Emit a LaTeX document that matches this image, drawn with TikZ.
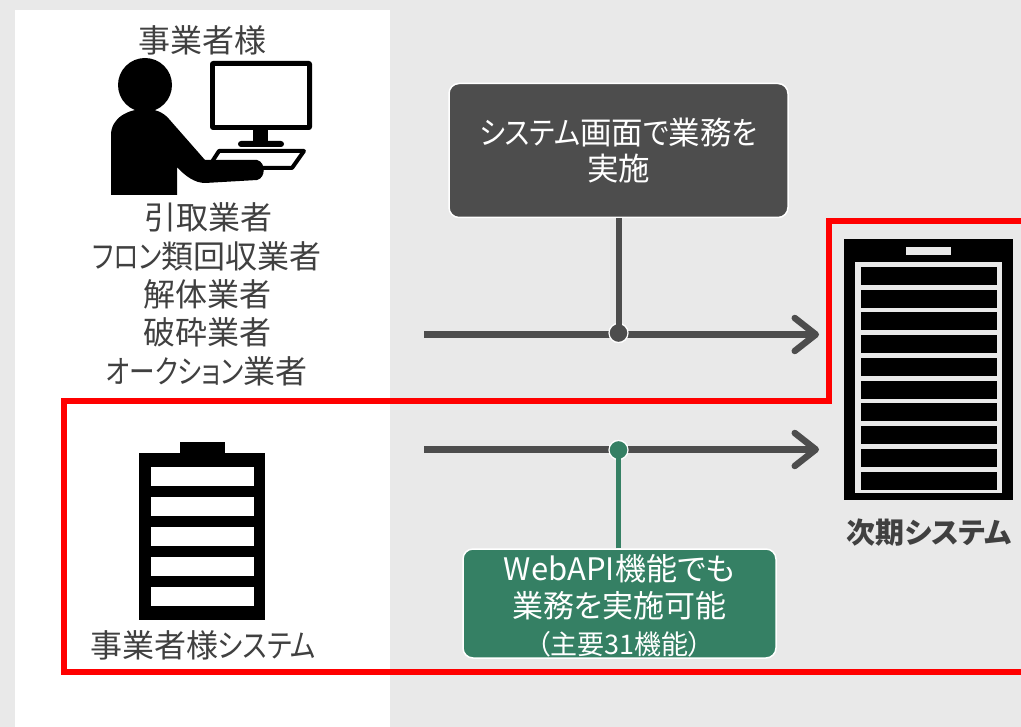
\documentclass[tikz,border=0pt]{standalone}
\usepackage{fontspec}
\setmainfont{Noto Sans CJK JP}[RawFeature=+palt]
\usetikzlibrary{arrows.meta}
\definecolor{panelgray}{HTML}{E9E9E9}
\definecolor{darkgray}{HTML}{4D4D4D}
\definecolor{textgray}{HTML}{404040}
\definecolor{boxgreen}{HTML}{358064}
\newcommand{\kana}[2][0.8]{\scalebox{#1}[1]{#2}}
\tikzset{
  label/.style={text=textgray, font=\fontsize{32}{34}\selectfont, inner sep=0pt},
  taskbox/.style={draw=white, line width=1.5pt, rounded corners=10pt, text=white, align=center, inner sep=0pt},
  flow/.style={darkgray, line width=6.5pt, -{Straight Barb[length=21pt,width=33pt,round]}},
  dot/.style={circle, draw=white, line width=1.2pt, minimum size=19pt, inner sep=0pt},
  icon/.style={fill=black, draw=none}
}
\begin{document}
\begin{tikzpicture}[x=1pt, y=-1pt]
\useasboundingbox (0,0) rectangle (1021,727);
% Background
\fill[panelgray] (0,0) rectangle (1021,727);
\fill[white] (15,10) rectangle (390,727);

% Person at the screen
\draw[line width=4pt, line join=round] (219,151) -- (304,151) -- (292,168) -- (250,168);
\draw[line width=4pt, line cap=round] (219,151) -- (208,168);
\fill[icon] (145,85) circle (27);
\fill[icon] (111,195) -- (111,135) .. controls (111,118) and (128,109) .. (145,109)
    .. controls (155,109) and (163,112) .. (169,119) -- (205,160) -- (257,160)
    .. controls (266,162) and (266,178) .. (257,180) -- (205,183)
    .. controls (195,183) and (185,176) .. (177,167) -- (177,195) -- cycle;
\fill[icon, rounded corners=3pt] (210,61) rectangle (312,130);
\fill[white] (215,66) rectangle (307,125);
\fill[icon] (253,130) rectangle (268,142);
\fill[icon, rounded corners=3pt] (238,141) rectangle (284,147);

% Company system
\fill[icon] (139,453) rectangle (265,620);
\fill[icon] (180,442) rectangle (225,453);
\foreach \y in {467,497,527,557,587}
    \fill[white] (151,\y) rectangle (254,\y+18.5);

% Next system
\node[icon, minimum width=169pt, minimum height=261pt, inner sep=0pt] (nextsys) at (928.5,369.5) {};
\fill[panelgray] (906,247) rectangle (951,255);
\fill[panelgray] (855,262) rectangle (1002,493);
\foreach \i in {0,...,9}
    \fill[black] (861,267+22.75*\i) rectangle (997,285+22.75*\i);

% Red frame
\draw[red, line width=6pt, line join=miter] (1021,221) -- (829,221) -- (829,401) -- (64,401) -- (64,672) -- (1021,672);

% Labels
\node[label] (user) at (202.5,40) {事業者様};
\node[label] (user1) at (208,217) {引取業者};
\node[label] (user2) at (207,256) {\kana{フロン}類回収業者};
\node[label] (user3) at (207,294) {解体業者};
\node[label] (user4) at (207,332) {破砕業者};
\node[label] (user5) at (207,371) {\kana{オークション}業者};
\node[label] (usersys) at (203,645) {事業者様\kana[0.84]{システム}};
\node[label, font=\fontsize{29}{31}\selectfont\bfseries] (nextlabel) at (929,533) {次期システム};

% Boxes
\node[taskbox, fill=darkgray, minimum width=339pt, minimum height=134pt,
    font=\fontsize{31.5}{36}\selectfont] (screenbox) at (618.5,150.5)
    {\kana[0.88]{システム}画面\kana[0.88]{で}業務\kana[0.88]{を}\\実施};
\node[taskbox, fill=boxgreen, minimum width=313pt, minimum height=109pt] (apibox) at (619.5,603.5) {};
\node[text=white, align=center, inner sep=0pt, font=\fontsize{31}{37}\selectfont] (apitext) at (619.5,606)
    {WebAPI機能でも\\
     業務を実施可能\\
     {\fontsize{27}{37}\selectfont （主要31機能）}};

% Arrows
\coordinate (startA) at (424,334.5);
\coordinate (endA) at (819,334.5);
\coordinate (startB) at (424,449.5);
\coordinate (endB) at (819,449.5);
\node[dot, fill=darkgray] (dotA) at (618.5,333) {};
\node[dot, fill=boxgreen] (dotB) at (618.5,450) {};
\draw[flow] (startA) -- (endA);
\draw[flow] (startB) -- (endB);
\node[dot, fill=darkgray] at (dotA) {};
\node[dot, fill=boxgreen] at (dotB) {};
\draw[darkgray, line width=6pt] (dotA |- screenbox.south) -- (dotA.center);
\draw[boxgreen, line width=5.5pt] (dotB |- apibox.north) -- (dotB.center);
\end{tikzpicture}
\end{document}
